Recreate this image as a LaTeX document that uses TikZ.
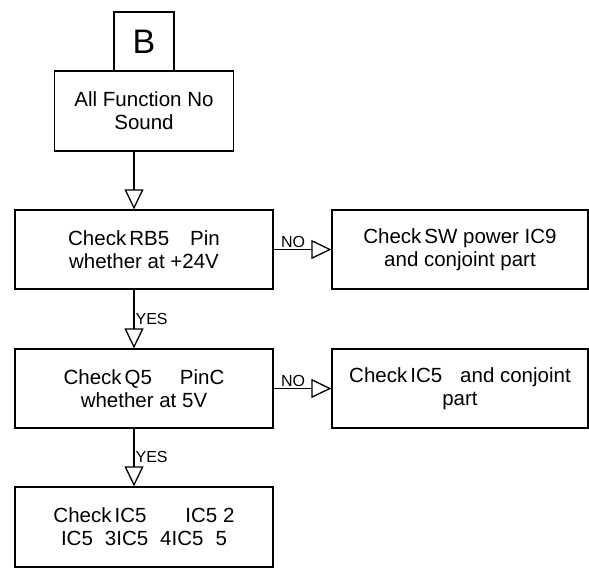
\documentclass[tikz,border=0pt]{standalone}
\usepackage{fontspec}
\setmainfont{Liberation Sans}
\usepackage{tikz}
\usetikzlibrary{arrows.meta}

\begin{document}
\begin{tikzpicture}[x=1pt,y=-1pt,
    font=\fontsize{20.5}{23}\selectfont,
    box/.style={draw, line width=1.3pt, inner sep=0pt, align=center,
                minimum width=258pt, minimum height=79pt},
    flow/.style={line width=1.3pt, -{Triangle[open,length=20pt,width=19pt]}},
    lbl/.style={font=\fontsize{16}{18}\selectfont, inner sep=1pt}]
   \useasboundingbox (0,0) rectangle (589,575);

   \node[box, minimum width=60pt, minimum height=59pt, font=\fontsize{34}{36}\selectfont]
      at (144,41.5) (B) {B};
   \node[box, minimum width=179pt, minimum height=80pt] at (144,111) (nosound)
      {All Function No\\Sound};
   \node[box] at (144,249.5) (rbfive)
      {Check\hspace{3pt}RB5\hspace{21pt}Pin\\whether at +24V};
   \node[box, minimum width=256pt] at (460,249.5) (swpower)
      {Check\hspace{3pt}SW power IC9\\and conjoint part};
   \node[box] at (144,388.5) (qfive)
      {Check\hspace{3pt}Q5\hspace{28pt}PinC\\whether at 5V};
   \node[box, minimum width=256pt] at (460,388.5) (icfive)
      {Check\hspace{3pt}IC5\hspace{18pt}and conjoint\\part};
   \node[box, minimum height=80pt] at (144,527) (icall)
      {Check\hspace{3pt}IC5\hspace{39pt}IC5 2\\IC5\hspace{12pt}3IC5\hspace{12pt}4IC5\hspace{12pt}5};

   \draw[flow] ([xshift=-10pt]nosound.south) -- ([xshift=-10pt]rbfive.north);
   \draw[flow] (rbfive) -- node[lbl, pos=0.1, anchor=south west] {NO} (swpower);
   \draw[flow] ([xshift=-10pt]rbfive.south) -- node[lbl, pos=0.62, anchor=south west] {YES} ([xshift=-10pt]qfive.north);
   \draw[flow] (qfive) -- node[lbl, pos=0.1, anchor=south west] {NO} (icfive);
   \draw[flow] ([xshift=-10pt]qfive.south) -- node[lbl, pos=0.62, anchor=south west] {YES} ([xshift=-10pt]icall.north);
\end{tikzpicture}
\end{document}
